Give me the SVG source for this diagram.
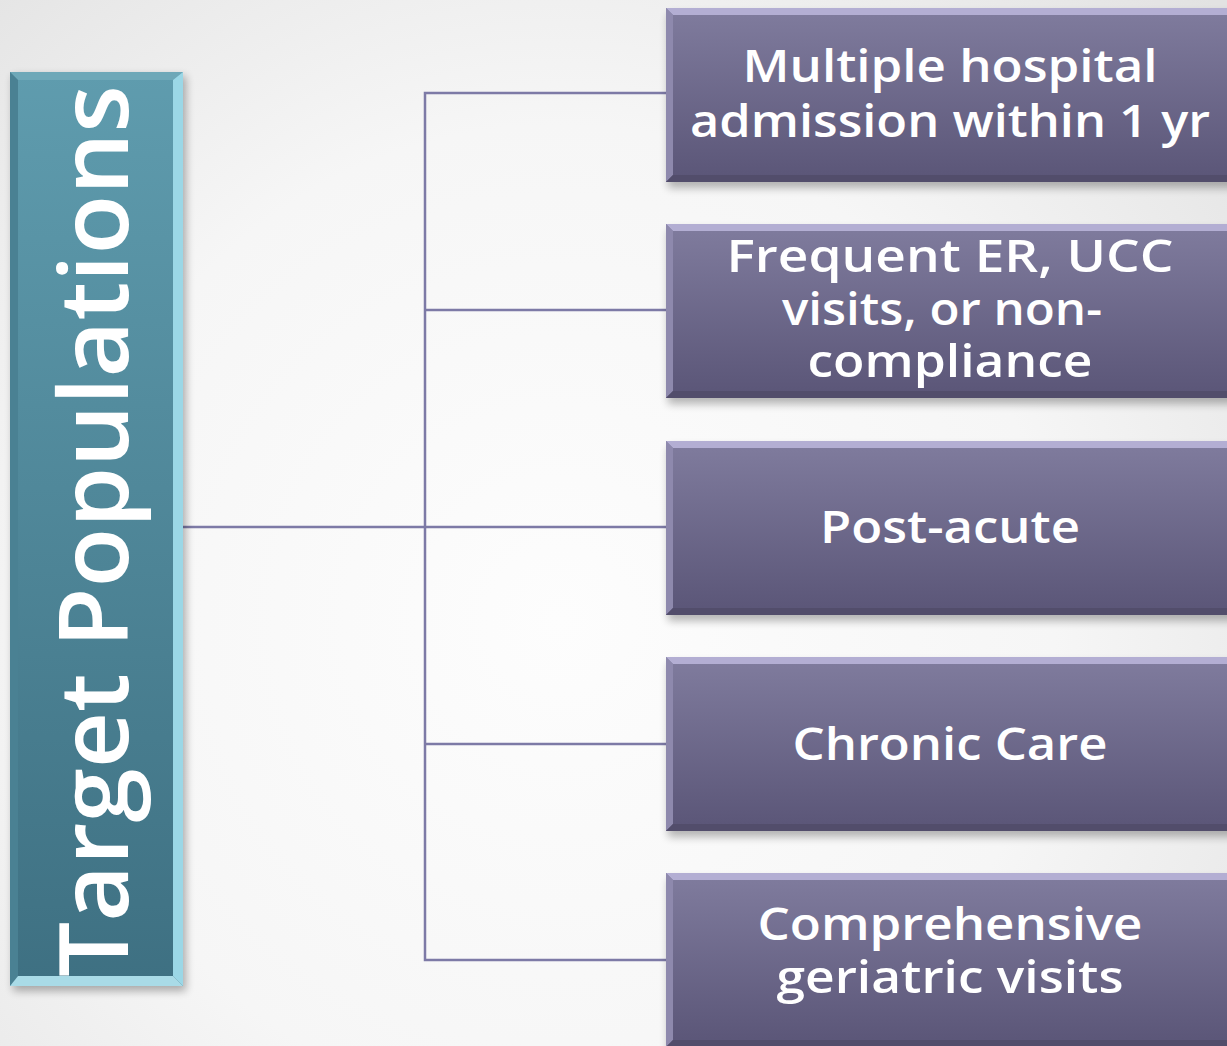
<svg xmlns="http://www.w3.org/2000/svg" width="1227" height="1046" viewBox="0 0 1227 1046">
  <defs>
    <radialGradient id="bg" cx="560" cy="620" r="900" gradientUnits="userSpaceOnUse">
      <stop offset="0" stop-color="#fdfdfd"/>
      <stop offset="0.55" stop-color="#f6f6f6"/>
      <stop offset="1" stop-color="#e2e2e2"/>
    </radialGradient>
    <linearGradient id="teal" x1="0" y1="0" x2="0" y2="1">
      <stop offset="0" stop-color="#5f9cae"/>
      <stop offset="1" stop-color="#3e7082"/>
    </linearGradient>
    <linearGradient id="purple" x1="0" y1="0" x2="0" y2="1">
      <stop offset="0" stop-color="#807c9e"/>
      <stop offset="1" stop-color="#5a5577"/>
    </linearGradient>
    <filter id="shadow" x="-10%" y="-10%" width="120%" height="130%">
      <feGaussianBlur stdDeviation="4"/>
    </filter>
    <!-- purple node frame: base box plus bevel facets, placed by y offset -->
    <g id="pbox">
      <rect x="668" y="6" width="570" height="174" fill="#000" opacity="0.28" filter="url(#shadow)"/>
      <rect x="666" y="0" width="570" height="174" fill="url(#purple)"/>
      <polygon points="666,0 1236,0 1228,7 673,7" fill="#b3aed3"/>
      <polygon points="666,0 673,7 673,167 666,174" fill="#8e89ad"/>
      <polygon points="666,174 673,167 1228,167 1236,174" fill="#524d6b"/>
    </g>
  </defs>
  <style>
    .lbl { font-family: "Open Sans", "DejaVu Sans", sans-serif; font-weight: 600; font-size: 45px; fill: #ffffff; text-anchor: middle; }
    .title { font-family: "Open Sans", "DejaVu Sans", sans-serif; font-weight: 600; font-size: 96px; fill: #ffffff; text-anchor: middle; }
    .conn { fill: none; stroke: #7d7aa6; stroke-width: 2.5; }
  </style>

  <rect x="0" y="0" width="1227" height="1046" fill="url(#bg)"/>

  <!-- connectors -->
  <g id="connectors">
    <path class="conn" d="M183,527 H425"/>
    <path class="conn" d="M666,93 H425 V960 H666"/>
    <path class="conn" d="M425,310 H666"/>
    <path class="conn" d="M425,527 H666"/>
    <path class="conn" d="M425,744 H666"/>
  </g>

  <!-- root node -->
  <g id="target-populations">
    <rect x="13" y="76" width="173" height="915" fill="#000" opacity="0.3" filter="url(#shadow)"/>
    <rect x="10" y="72" width="173" height="914" fill="url(#teal)"/>
    <polygon points="10,72 183,72 173,80 18,80" fill="#6ea8b8"/>
    <polygon points="10,72 18,80 18,976 10,986" fill="#4a8193"/>
    <polygon points="183,72 183,986 173,976 173,80" fill="#9bd7e6"/>
    <polygon points="10,986 18,976 173,976 183,986" fill="#a9dbe7"/>
    <text class="title" transform="translate(128,531) rotate(-90)" textLength="892" lengthAdjust="spacingAndGlyphs">Target Populations</text>
  </g>

  <g id="multiple-admission">
    <use href="#pbox" y="8"/>
    <text class="lbl" x="950" y="82" textLength="415" lengthAdjust="spacingAndGlyphs">Multiple hospital</text>
    <text class="lbl" x="950" y="137" textLength="520" lengthAdjust="spacingAndGlyphs">admission within 1 yr</text>
  </g>

  <g id="frequent-er">
    <use href="#pbox" y="224"/>
    <text class="lbl" x="950" y="272" textLength="447" lengthAdjust="spacingAndGlyphs">Frequent ER, UCC</text>
    <text class="lbl" x="942" y="325" textLength="320" lengthAdjust="spacingAndGlyphs">visits, or non-</text>
    <text class="lbl" x="950" y="377" textLength="285" lengthAdjust="spacingAndGlyphs">compliance</text>
  </g>

  <g id="post-acute">
    <use href="#pbox" y="441"/>
    <text class="lbl" x="950" y="543" textLength="260" lengthAdjust="spacingAndGlyphs">Post-acute</text>
  </g>

  <g id="chronic-care">
    <use href="#pbox" y="657"/>
    <text class="lbl" x="950" y="760" textLength="315" lengthAdjust="spacingAndGlyphs">Chronic Care</text>
  </g>

  <g id="geriatric-visits">
    <use href="#pbox" y="873"/>
    <text class="lbl" x="950" y="940" textLength="385" lengthAdjust="spacingAndGlyphs">Comprehensive</text>
    <text class="lbl" x="950" y="993" textLength="347" lengthAdjust="spacingAndGlyphs">geriatric visits</text>
  </g>
</svg>
